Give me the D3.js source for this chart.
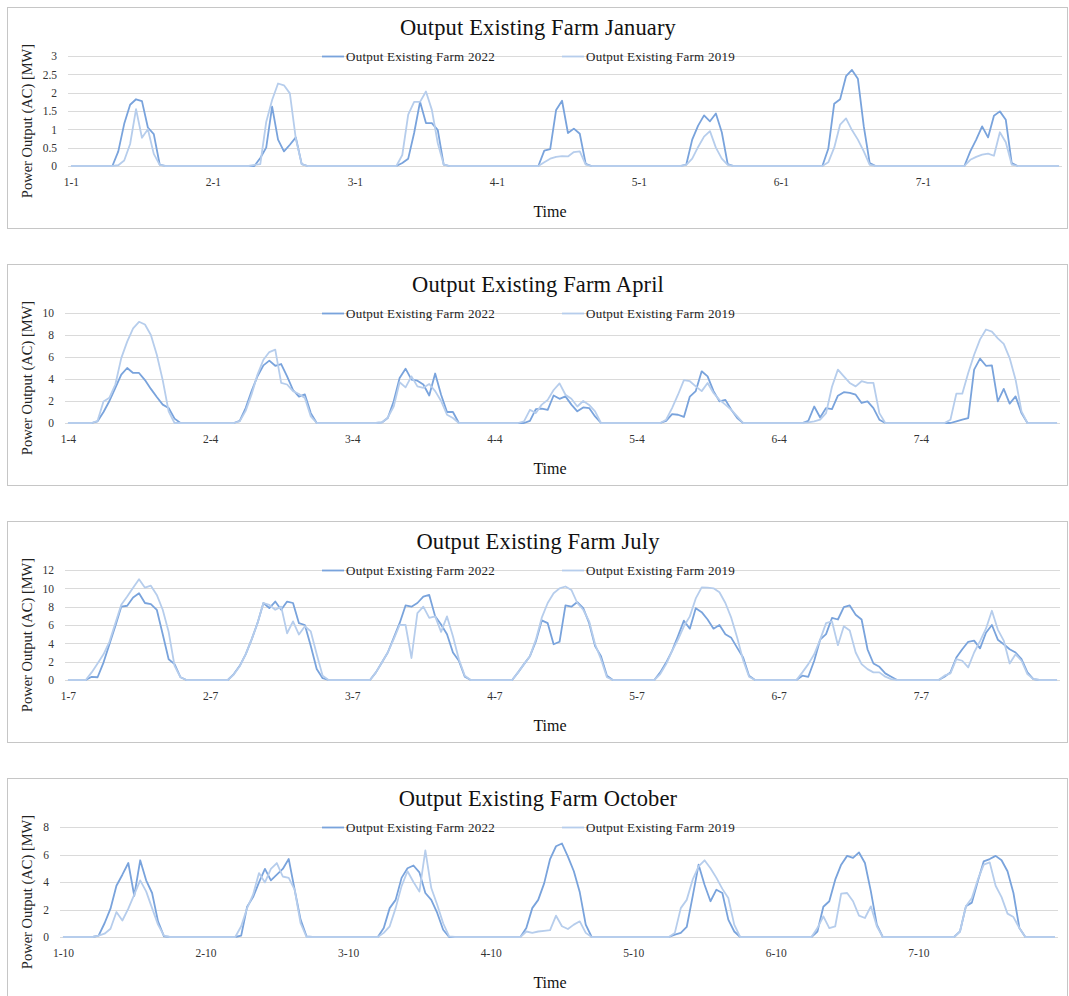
<!DOCTYPE html>
<html>
<head>
<meta charset="utf-8">
<script src="https://cdn.jsdelivr.net/npm/d3@7"></script>
<style>
    body { margin: 0; background: #fff; }
    svg text { font-family: "Liberation Serif", "Times New Roman", serif; }
</style>
</head>
<body>
<svg id="chart" width="1069" height="996"></svg>
<script>
// -- DATA: hourly output [MW], one row of 24 hours per day --

const janDays = ["1-1", "2-1", "3-1", "4-1", "5-1", "6-1", "7-1"];
const aprDays = ["1-4", "2-4", "3-4", "4-4", "5-4", "6-4", "7-4"];
const julDays = ["1-7", "2-7", "3-7", "4-7", "5-7", "6-7", "7-7"];
const octDays = ["1-10", "2-10", "3-10", "4-10", "5-10", "6-10", "7-10"];

const janTicks = [0, 0.5, 1, 1.5, 2, 2.5, 3];
const aprTicks = [0, 2, 4, 6, 8, 10];
const julTicks = [0, 2, 4, 6, 8, 10, 12];
const octTicks = [0, 2, 4, 6, 8];

const jan22 = [
    [0,0,0,0,0,0,0,0, 0.4,1.15,1.67,1.82,1.77,1.05,0.87,0.04, 0,0,0,0,0,0,0,0],
    [0,0,0,0,0,0,0,0, 0.22,0.5,1.62,0.72,0.4,0.58,0.78,0.05, 0,0,0,0,0,0,0,0],
    [0,0,0,0,0,0,0,0, 0.08,0.2,0.9,1.75,1.17,1.17,0.98,0.04, 0,0,0,0,0,0,0,0],
    [0,0,0,0,0,0,0,0, 0.42,0.46,1.53,1.78,0.9,1.02,0.88,0.06, 0,0,0,0,0,0,0,0],
    [0,0,0,0,0,0,0,0, 0.04,0.72,1.1,1.38,1.22,1.43,0.92,0.05, 0,0,0,0,0,0,0,0],
    [0,0,0,0,0,0,0,0, 0.47,1.7,1.82,2.45,2.62,2.38,1.08,0.08, 0,0,0,0,0,0,0,0],
    [0,0,0,0,0,0,0,0, 0.4,0.72,1.08,0.78,1.37,1.49,1.26,0.08, 0,0,0,0,0,0,0,0]
];
const jan19 = [
    [0,0,0,0,0,0,0,0, 0.02,0.15,0.6,1.55,0.77,1.0,0.33,0.03, 0,0,0,0,0,0,0,0],
    [0,0,0,0,0,0,0, 0.03,0.05,1.2,1.8,2.25,2.2,1.98,0.75,0.05, 0,0,0,0,0,0,0,0],
    [0,0,0,0,0,0,0,0, 0.3,1.4,1.75,1.75,2.03,1.53,0.62,0.04, 0,0,0,0,0,0,0,0],
    [0,0,0,0,0,0,0,0, 0.1,0.2,0.25,0.27,0.26,0.38,0.4,0.04, 0,0,0,0,0,0,0,0],
    [0,0,0,0,0,0,0,0, 0.03,0.2,0.52,0.8,0.95,0.5,0.2,0.03, 0,0,0,0,0,0,0,0],
    [0,0,0,0,0,0,0,0, 0.1,0.5,1.13,1.3,0.98,0.72,0.4,0.03, 0,0,0,0,0,0,0,0],
    [0,0,0,0,0,0,0,0, 0.17,0.25,0.31,0.34,0.28,0.92,0.65,0.04, 0,0,0,0,0,0,0,0]
];

const apr22 = [
    [0,0,0,0,0, 0.15,1.0,2.0,3.2,4.4,5.0,4.55,4.55,3.9,3.1,2.36,1.67,1.36,0.4, 0,0,0,0,0],
    [0,0,0,0,0, 0.2,1.36,2.9,4.25,5.24,5.67,5.2,5.36,4.24,3.0,2.4,2.6,0.9,0, 0,0,0,0,0],
    [0,0,0,0,0, 0.05,0.45,1.97,4.1,4.94,3.94,3.85,3.5,2.5,4.5,2.57,1.0,1.0,0, 0,0,0,0,0],
    [0,0,0,0,0, 0,0.2,1.27,1.3,1.2,2.5,2.2,2.42,1.67,1.06,1.42,1.36,0.6,0, 0,0,0,0,0],
    [0,0,0,0,0, 0.2,0.8,0.75,0.55,2.4,2.9,4.7,4.24,2.9,1.97,2.1,1.2,0.45,0, 0,0,0,0,0],
    [0,0,0,0,0, 0.2,1.5,0.5,1.36,1.27,2.48,2.8,2.73,2.57,1.82,1.97,1.36,0.3,0, 0,0,0,0,0],
    [0,0,0,0,0, 0,0.15,0.3,0.45,4.85,5.85,5.2,5.24,1.97,3.1,1.76,2.42,0.9,0, 0,0,0,0,0]
];
const apr19 = [
    [0,0,0,0,0, 0.2,1.95,2.3,3.5,5.9,7.4,8.6,9.2,8.95,8.0,6.2,3.9,1.06,0, 0,0,0,0,0],
    [0,0,0,0,0, 0.15,1.1,2.6,4.4,5.75,6.45,6.67,3.64,3.5,2.9,2.64,2.27,0.6,0, 0,0,0,0,0],
    [0,0,0,0,0, 0.05,0.5,1.5,3.7,3.24,4.24,3.33,3.2,3.55,2.9,2.0,0.75,0.45,0, 0,0,0,0,0],
    [0,0,0,0,0, 0.15,1.2,0.9,1.67,2.1,3.0,3.6,2.57,2.2,1.5,2.0,1.64,1.06,0, 0,0,0,0,0],
    [0,0,0,0,0, 0.3,1.36,2.57,3.9,3.8,3.33,2.9,3.64,2.73,2.1,1.67,1.2,0.6,0, 0,0,0,0,0],
    [0,0,0,0,0, 0.05,0.15,0.3,0.9,3.3,4.85,4.24,3.64,3.33,3.8,3.64,3.64,0.9,0, 0,0,0,0,0],
    [0,0,0,0,0, 0.3,2.67,2.67,4.54,6.2,7.6,8.5,8.3,7.7,7.2,5.9,3.94,1.06,0, 0,0,0,0,0]
];

const jul22 = [
    [0,0,0,0, 0.35,0.3,1.9,3.9,5.9,8.0,8.1,9.0,9.46,8.4,8.27,7.66,5.0,2.27,1.73,0.3, 0,0,0,0],
    [0,0,0,0, 0.65,1.55,2.8,4.4,6.2,8.4,7.85,8.56,7.66,8.56,8.4,6.2,6.0,3.7,1.2,0.2, 0,0,0,0],
    [0,0,0,0, 0.83,1.9,3.0,4.6,6.2,8.13,8.0,8.4,9.1,9.28,6.94,6.05,5.0,3.0,2.1,0.35, 0,0,0,0],
    [0,0,0,0, 0.83,1.73,2.6,4.2,6.5,6.2,3.9,4.17,8.13,8.0,8.5,7.84,6.2,3.7,2.6,0.47, 0,0,0,0],
    [0,0,0,0, 0.83,1.9,3.17,4.78,6.47,5.6,7.84,7.4,6.6,5.6,6.0,5.0,4.6,3.5,2.45,0.47, 0,0,0,0],
    [0,0,0,0, 0.47,0.35,2.1,4.4,5.0,6.77,6.6,7.95,8.13,7.12,6.6,3.35,1.8,1.44,0.72,0.36, 0,0,0,0],
    [0,0,0,0, 0.36,0.83,2.45,3.35,4.17,4.3,3.45,5.15,6.0,4.4,3.9,3.35,3.0,2.27,0.83,0.1, 0,0,0,0]
];
const jul19 = [
    [0,0,0,0, 0.83,1.8,2.8,4.17,6.2,8.2,9.1,10.07,11.0,10.07,10.29,9.28,7.66,5.25,1.55,0.3, 0,0,0,0],
    [0,0,0,0, 0.6,1.5,2.8,4.4,6.2,8.4,8.2,7.66,8.0,5.1,6.4,4.96,5.86,5.3,2.8,0.47, 0,0,0,0],
    [0,0,0,0, 0.83,1.9,3.0,4.45,6.0,6.0,2.4,7.3,8.0,6.77,6.94,5.25,6.94,4.78,2.27,0.47, 0,0,0,0],
    [0,0,0,0, 0.83,1.73,2.6,4.4,6.8,8.4,9.46,10.0,10.2,9.82,8.4,7.66,6.4,3.9,2.27,0.3, 0,0,0,0],
    [0,0,0,0, 0.65,1.73,3.17,4.4,5.86,6.94,8.9,10.1,10.07,10.0,9.57,8.4,6.77,4.6,2.16,0.35, 0,0,0,0],
    [0,0,0,0, 0.83,1.73,2.8,4.4,6.2,6.4,3.8,5.86,5.4,3.0,1.73,1.19,0.83,0.83,0.36,0.1, 0,0,0,0],
    [0,0,0,0, 0.47,0.72,2.27,2.1,1.37,3.0,4.25,5.6,7.55,5.5,4.3,1.8,2.8,2.1,0.65,0.1, 0,0,0,0]
];

const oct22 = [
    [0,0,0,0,0, 0,0.1,1.0,2.06,3.73,4.53,5.38,3.0,5.58,4.12,3.2,1.14,0.05,0, 0,0,0,0,0],
    [0,0,0,0,0, 0,0.1,2.2,2.9,3.97,4.95,4.12,4.53,4.95,5.67,3.44,1.26,0.05,0, 0,0,0,0,0],
    [0,0,0,0,0, 0,0.65,2.1,2.7,4.3,5.0,5.2,4.7,3.2,2.7,1.75,0.53,0,0, 0,0,0,0,0],
    [0,0,0,0,0, 0,0.65,2.1,2.7,3.9,5.67,6.6,6.8,5.85,4.78,3.25,0.9,0,0, 0,0,0,0,0],
    [0,0,0,0,0, 0,0,0.17,0.3,0.73,2.96,5.26,3.8,2.6,3.44,3.2,1.26,0.4,0, 0,0,0,0,0],
    [0,0,0,0,0, 0,0,0.4,2.2,2.6,4.17,5.26,5.9,5.75,6.15,5.38,3.32,0.9,0, 0,0,0,0,0],
    [0,0,0,0,0, 0,0,0.4,2.23,2.5,4.05,5.5,5.67,5.9,5.58,4.78,3.2,0.65,0, 0,0,0,0,0]
];
const oct19 = [
    [0,0,0,0,0, 0,0.1,0.24,0.6,1.82,1.2,2.06,3.08,4.12,3.32,2.1,0.9,0.1,0, 0,0,0,0,0],
    [0,0,0,0,0, 0,0.78,2.1,3.08,4.65,3.97,4.95,5.38,4.4,4.3,3.44,1.0,0,0, 0,0,0,0,0],
    [0,0,0,0,0, 0,0.3,0.78,2.1,3.7,4.78,4.0,3.3,6.3,3.56,2.35,1.0,0.05,0, 0,0,0,0,0],
    [0,0,0,0,0, 0,0.4,0.3,0.4,0.45,0.5,1.55,0.78,0.58,0.9,1.14,0.3,0,0, 0,0,0,0,0],
    [0,0,0,0,0, 0,0,0.3,2.1,2.7,4.17,5.14,5.58,5.0,4.3,3.5,2.84,0.9,0, 0,0,0,0,0],
    [0,0,0,0,0, 0,0,0.65,1.5,0.65,0.78,3.15,3.2,2.6,1.55,1.38,2.23,0.78,0, 0,0,0,0,0],
    [0,0,0,0,0, 0,0,0.4,2.23,2.84,4.17,5.26,5.43,3.73,2.9,1.7,1.45,0.65,0, 0,0,0,0,0]
];

const seriesNames = ["Output Existing Farm 2022", "Output Existing Farm 2019"];

const panels = [
    { title: "Output Existing Farm January", days: janDays, ticks: janTicks, s22: jan22, s19: jan19 },
    { title: "Output Existing Farm April", days: aprDays, ticks: aprTicks, s22: apr22, s19: apr19 },
    { title: "Output Existing Farm July", days: julDays, ticks: julTicks, s22: jul22, s19: jul19 },
    { title: "Output Existing Farm October", days: octDays, ticks: octTicks, s22: oct22, s19: oct19 }
];

// -- LAYOUT --
const panelTop = [7, 264, 521, 778];
const plotLeft = [68, 65, 65, 60];
const plotRight = [1062, 1060, 1060, 1058];
const plotTop = 49, plotZero = 159;
const colors = ["#79a3dc", "#b6cdec"];
const font = "'Liberation Serif', 'Times New Roman', serif";

const svg = d3.select("#chart");

panels.forEach((p, i) => {
    let g = svg.append("g").attr("transform", `translate(0,${panelTop[i]})`);

    // -- РАМКА --
    g.append("rect")
        .attr("x", 7.5).attr("y", 0.5)
        .attr("width", 1060).attr("height", 221)
        .attr("fill", "#fff")
        .attr("stroke", "#c6c6c6");

    let n = p.days.length * 24;
    let x = d3.scalePoint()
        .domain(d3.range(n))
        .range([plotLeft[i], plotRight[i]])
        .padding(0.5);
    let y = d3.scaleLinear()
        .domain([0, d3.max(p.ticks)])
        .range([plotZero, plotTop]);

    // -- СЕТКА --
    g.append("g")
        .selectAll("line")
        .data(p.ticks)
        .enter().append("line")
        .attr("x1", plotLeft[i]).attr("x2", plotRight[i])
        .attr("y1", d => Math.round(y(d)) + 0.5)
        .attr("y2", d => Math.round(y(d)) + 0.5)
        .attr("stroke", "#dadada")
        .attr("stroke-width", 1);

    // -- ОСИ --
    let yAxis = g.append("g")
        .attr("transform", `translate(${plotLeft[i]},0)`)
        .call(d3.axisLeft(y).tickValues(p.ticks).tickSize(0).tickPadding(11).tickFormat(d => String(d)));
    yAxis.select(".domain").remove();

    let xAxis = g.append("g")
        .attr("transform", `translate(0,${plotZero})`)
        .call(d3.axisBottom(x)
            .tickValues(d3.range(0, n, 24))
            .tickSize(0).tickPadding(12)
            .tickFormat(d => p.days[d / 24]));
    xAxis.select(".domain").remove();

    g.selectAll(".tick text")
        .attr("font-family", font)
        .attr("font-size", 11.5)
        .attr("fill", "#333");

    // -- ЛИНИИ --
    let line = d3.line()
        .x((d, j) => x(j))
        .y(d => y(d))
        .curve(d3.curveLinear);

    [p.s22, p.s19].forEach((s, k) => {
        g.append("path")
            .datum(s.flat())
            .attr("d", line)
            .attr("fill", "none")
            .attr("stroke", colors[k])
            .attr("stroke-width", 1.8)
            .attr("stroke-linejoin", "round");
    });

    // -- ЗАГОЛОВОК --
    g.append("text")
        .attr("x", 538).attr("y", 28)
        .attr("text-anchor", "middle")
        .attr("font-size", 22.5)
        .attr("letter-spacing", 0.15)
        .attr("fill", "#111")
        .text(p.title);

    // -- ЛЕГЕНДА --
    let legX = [322, 562];
    seriesNames.forEach((name, k) => {
        g.append("line")
            .attr("x1", legX[k]).attr("x2", legX[k] + 22)
            .attr("y1", plotTop + 0.5).attr("y2", plotTop + 0.5)
            .attr("stroke", colors[k])
            .attr("stroke-width", 1.8);
        g.append("text")
            .attr("x", legX[k] + 24).attr("y", plotTop + 4.5)
            .attr("font-size", 13)
            .attr("letter-spacing", 0.25)
            .attr("fill", "#222")
            .text(name);
    });

    // -- ПОДПИСИ ОСЕЙ --
    g.append("text")
        .attr("x", 550).attr("y", 210)
        .attr("text-anchor", "middle")
        .attr("font-size", 16)
        .attr("fill", "#111")
        .text("Time");

    g.append("text")
        .attr("transform", "translate(32,114) rotate(-90)")
        .attr("text-anchor", "middle")
        .attr("font-size", 14.5)
        .attr("fill", "#222")
        .text("Power Output (AC) [MW]");
});
</script>
</body>
</html>
